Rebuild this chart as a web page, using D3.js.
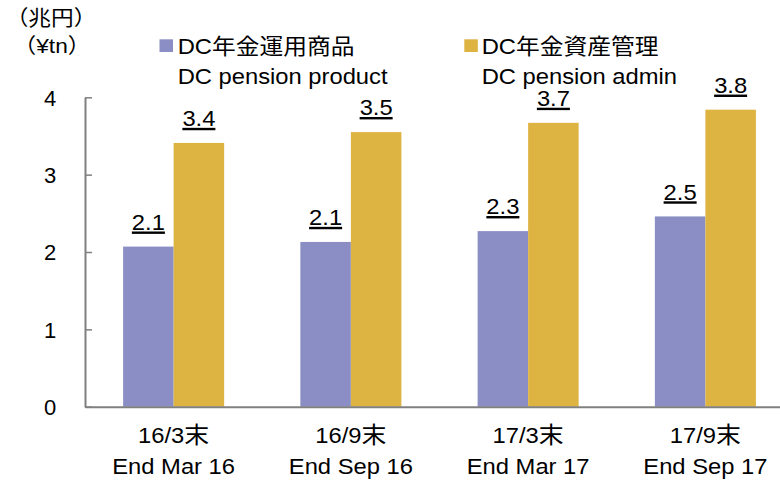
<!DOCTYPE html>
<html>
<head>
<meta charset="utf-8">
<script src="https://cdn.jsdelivr.net/npm/d3@7"></script>
<style>
  html, body { margin: 0; padding: 0; background: #fff; }
  svg { display: block; }
</style>
</head>
<body>
<svg id="chart" width="780" height="480"></svg>
<script>
// Categories (two-line labels) and series
const categories = ["16/3末", "16/9末", "17/3末", "17/9末"];
const categoriesEn = ["End Mar 16", "End Sep 16", "End Mar 17", "End Sep 17"];
const seriesNames = ["DC年金運用商品", "DC年金資産管理"];
const seriesNamesEn = ["DC pension product", "DC pension admin"];
const productValues = [2.07, 2.13, 2.27, 2.46];
const adminValues = [3.41, 3.55, 3.67, 3.84];
const yTicks = [0, 1, 2, 3, 4];
const yTitle = ["（兆円）", "（¥tn）"];

const colors = ["#8b8ec5", "#ddb341"];
const axisColor = "#808080";
const LATIN = "'Liberation Sans', Arial, sans-serif";
const CJK = "'Noto Sans CJK JP', 'Noto Sans CJK SC', sans-serif";
const SX = 1.08; // horizontal stretch of the text

const svg = d3.select("#chart");

const plot = { left: 85, top: 97.3, bottom: 406.7, right: 794 };

const y = d3.scaleLinear().domain([0, 4]).range([plot.bottom, plot.top]);
const x0 = d3.scaleBand().domain(categories).range([plot.left, plot.right])
  .paddingInner(0.43).paddingOuter(0.215);
const x1 = d3.scaleBand().domain([0, 1]).range([0, x0.bandwidth()]);

// Text with Latin/CJK runs, horizontally stretched
function addText(parent, x, y, str, size, anchor, cjkSize) {
  const g = parent.append("g").attr("transform", `translate(${x},${y}) scale(${SX},1)`);
  const t = g.append("text").attr("text-anchor", anchor || "start")
    .attr("font-family", LATIN).attr("font-size", size).attr("fill", "#000");
  const parts = str.split(/([\u3000-\u9fff\uff00-\uffef]+)/).filter(s => s.length);
  parts.forEach(p => {
    const cjk = /[\u3000-\u9fff\uff00-\uffef]/.test(p);
    const ts = t.append("tspan").text(p);
    if (cjk) ts.attr("font-family", CJK).attr("font-size", cjkSize || size);
  });
  return { g, t };
}

// Bars
const data = categories.map((c, i) => ({ c, vals: [productValues[i], adminValues[i]] }));
const groups = svg.append("g").selectAll("g").data(data).join("g")
  .attr("transform", d => `translate(${x0(d.c)},0)`);
groups.selectAll("rect").data(d => d.vals.map((v, k) => ({ v, k }))).join("rect")
  .attr("x", d => x1(d.k))
  .attr("width", x1.bandwidth())
  .attr("y", d => y(d.v))
  .attr("height", d => y(0) - y(d.v))
  .attr("fill", d => colors[d.k]);

// Underlined value labels
const fmt = d3.format(".1f");
data.forEach(d => {
  d.vals.forEach((v, k) => {
    const cx = x0(d.c) + x1(k) + x1.bandwidth() / 2;
    const base = y(v) - 16.7;
    const { g, t } = addText(svg, cx, base, fmt(v), 22, "middle");
    const w = t.node().getComputedTextLength();
    g.append("rect").attr("x", -w / 2).attr("width", w)
      .attr("y", 1.6).attr("height", 2.4).attr("fill", "#000");
  });
});

// Y axis
const yAxis = d3.axisLeft(y).tickValues(yTicks).tickFormat(d3.format("d"))
  .tickSizeInner(-7).tickSizeOuter(0).tickPadding(28);
const ya = svg.append("g").attr("transform", `translate(${plot.left},0)`).call(yAxis);
ya.select(".domain").attr("stroke", axisColor).attr("stroke-width", 2);
ya.selectAll(".tick line").attr("stroke", axisColor).attr("stroke-width", 1.5);
ya.selectAll(".tick text").attr("font-family", LATIN).attr("font-size", 22)
  .attr("fill", "#000").attr("text-anchor", "middle").attr("x", -35).attr("dy", "0.36em");

// X axis baseline
const xAxis = d3.axisBottom(x0).tickSize(0).tickFormat("");
const xa = svg.append("g").attr("transform", `translate(0,${plot.bottom})`).call(xAxis);
xa.select(".domain").attr("stroke", axisColor).attr("stroke-width", 2);

// Category labels
categories.forEach((c, i) => {
  const cx = x0(c) + x0.bandwidth() / 2;
  addText(svg, cx, 443.3, c, 22, "middle", 23);
  addText(svg, cx, 474, categoriesEn[i], 22, "middle");
});

// Y axis title
addText(svg, 51, 24.5, yTitle[0], 21, "middle", 21);
addText(svg, 52, 52.5, yTitle[1], 21, "middle", 21);

// Legend
const legendX = [159.5, 464.3];
const legendTextX = [177.7, 481.7];
seriesNames.forEach((n, k) => {
  svg.append("rect").attr("x", legendX[k]).attr("y", 39.3).attr("width", 13.5).attr("height", 12.7)
    .attr("fill", colors[k]);
  addText(svg, legendTextX[k], 54, n, 22, "start", 22);
  addText(svg, legendTextX[k], 84, seriesNamesEn[k], 22, "start");
});
</script>
</body>
</html>
